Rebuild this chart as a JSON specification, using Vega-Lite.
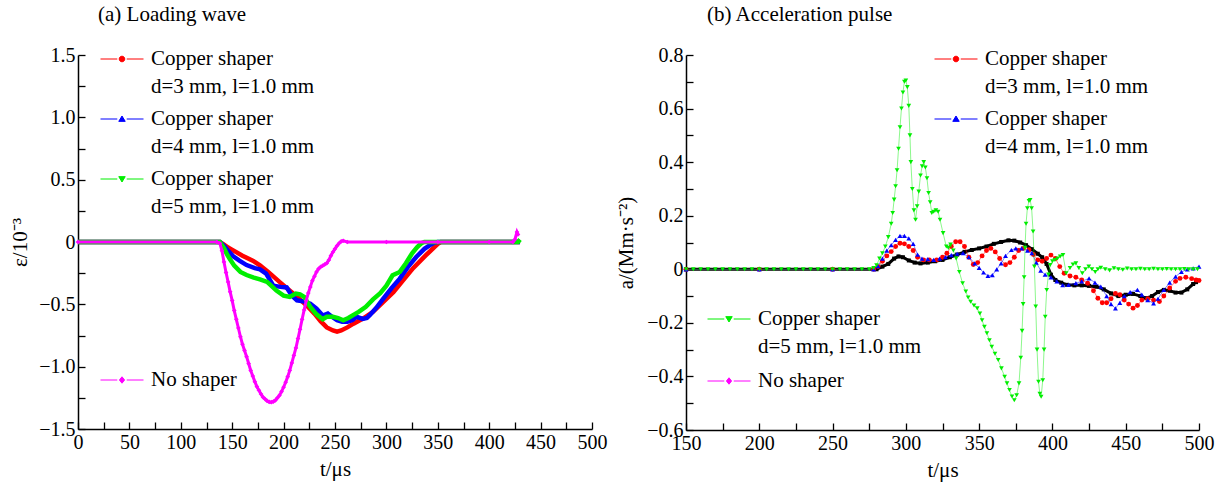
{
  "$schema": "https://vega.github.io/schema/vega-lite/v6.json",
  "padding": {"left": 9, "top": 4, "right": 5, "bottom": 5},
  "spacing": 8,
  "config": {
    "font": "Liberation Serif",
    "view": {"stroke": null},
    "axis": {"domainColor": "black", "domainWidth": 1.5, "tickColor": "black", "tickWidth": 1.3, "tickSize": -7, "labelFont": "Liberation Serif", "labelFontSize": 20, "labelColor": "black", "titleFont": "Liberation Serif", "titleFontSize": 21, "titleFontWeight": "normal", "titleColor": "black", "grid": false, "labelPadding": 10, "labelFlush": false, "labelOverlap": false},
    "legend": {"labelFont": "Liberation Serif", "labelFontSize": 21, "labelColor": "black", "padding": 0, "rowPadding": 1, "labelOffset": 7, "labelLimit": 400, "symbolSize": 1849, "orient": "none"}
  },
  "datasets": {
    "left": [
      {"s": "d=3 mm, l=1.0 mm", "t": 0, "v": 0}, {"s": "d=3 mm, l=1.0 mm", "t": 138, "v": 0}, {"s": "d=3 mm, l=1.0 mm", "t": 142, "v": -0.02}, {"s": "d=3 mm, l=1.0 mm", "t": 146, "v": -0.045}, {"s": "d=3 mm, l=1.0 mm", "t": 151, "v": -0.067}, {"s": "d=3 mm, l=1.0 mm", "t": 160, "v": -0.11}, {"s": "d=3 mm, l=1.0 mm", "t": 170, "v": -0.15}, {"s": "d=3 mm, l=1.0 mm", "t": 177, "v": -0.187}, {"s": "d=3 mm, l=1.0 mm", "t": 185, "v": -0.24}, {"s": "d=3 mm, l=1.0 mm", "t": 196, "v": -0.32}, {"s": "d=3 mm, l=1.0 mm", "t": 209, "v": -0.41}, {"s": "d=3 mm, l=1.0 mm", "t": 222, "v": -0.505}, {"s": "d=3 mm, l=1.0 mm", "t": 230, "v": -0.575}, {"s": "d=3 mm, l=1.0 mm", "t": 236, "v": -0.635}, {"s": "d=3 mm, l=1.0 mm", "t": 242, "v": -0.685}, {"s": "d=3 mm, l=1.0 mm", "t": 248, "v": -0.71}, {"s": "d=3 mm, l=1.0 mm", "t": 252, "v": -0.72}, {"s": "d=3 mm, l=1.0 mm", "t": 256, "v": -0.71}, {"s": "d=3 mm, l=1.0 mm", "t": 262, "v": -0.685}, {"s": "d=3 mm, l=1.0 mm", "t": 268, "v": -0.655}, {"s": "d=3 mm, l=1.0 mm", "t": 278, "v": -0.61}, {"s": "d=3 mm, l=1.0 mm", "t": 287, "v": -0.56}, {"s": "d=3 mm, l=1.0 mm", "t": 297, "v": -0.48}, {"s": "d=3 mm, l=1.0 mm", "t": 307, "v": -0.4}, {"s": "d=3 mm, l=1.0 mm", "t": 316, "v": -0.31}, {"s": "d=3 mm, l=1.0 mm", "t": 326, "v": -0.21}, {"s": "d=3 mm, l=1.0 mm", "t": 338, "v": -0.11}, {"s": "d=3 mm, l=1.0 mm", "t": 350, "v": -0.015}, {"s": "d=3 mm, l=1.0 mm", "t": 353, "v": 0}, {"s": "d=3 mm, l=1.0 mm", "t": 430, "v": 0},
      {"s": "d=4 mm, l=1.0 mm", "t": 0, "v": 0}, {"s": "d=4 mm, l=1.0 mm", "t": 138, "v": 0}, {"s": "d=4 mm, l=1.0 mm", "t": 142, "v": -0.03}, {"s": "d=4 mm, l=1.0 mm", "t": 146, "v": -0.07}, {"s": "d=4 mm, l=1.0 mm", "t": 151, "v": -0.115}, {"s": "d=4 mm, l=1.0 mm", "t": 157, "v": -0.15}, {"s": "d=4 mm, l=1.0 mm", "t": 164, "v": -0.185}, {"s": "d=4 mm, l=1.0 mm", "t": 172, "v": -0.21}, {"s": "d=4 mm, l=1.0 mm", "t": 177, "v": -0.22}, {"s": "d=4 mm, l=1.0 mm", "t": 183, "v": -0.254}, {"s": "d=4 mm, l=1.0 mm", "t": 190, "v": -0.35}, {"s": "d=4 mm, l=1.0 mm", "t": 197, "v": -0.36}, {"s": "d=4 mm, l=1.0 mm", "t": 203, "v": -0.365}, {"s": "d=4 mm, l=1.0 mm", "t": 208, "v": -0.43}, {"s": "d=4 mm, l=1.0 mm", "t": 213, "v": -0.468}, {"s": "d=4 mm, l=1.0 mm", "t": 219, "v": -0.476}, {"s": "d=4 mm, l=1.0 mm", "t": 226, "v": -0.495}, {"s": "d=4 mm, l=1.0 mm", "t": 232, "v": -0.535}, {"s": "d=4 mm, l=1.0 mm", "t": 238, "v": -0.59}, {"s": "d=4 mm, l=1.0 mm", "t": 243, "v": -0.574}, {"s": "d=4 mm, l=1.0 mm", "t": 247, "v": -0.6}, {"s": "d=4 mm, l=1.0 mm", "t": 252, "v": -0.628}, {"s": "d=4 mm, l=1.0 mm", "t": 257, "v": -0.64}, {"s": "d=4 mm, l=1.0 mm", "t": 262, "v": -0.64}, {"s": "d=4 mm, l=1.0 mm", "t": 267, "v": -0.625}, {"s": "d=4 mm, l=1.0 mm", "t": 271, "v": -0.6}, {"s": "d=4 mm, l=1.0 mm", "t": 277, "v": -0.617}, {"s": "d=4 mm, l=1.0 mm", "t": 281, "v": -0.61}, {"s": "d=4 mm, l=1.0 mm", "t": 284, "v": -0.585}, {"s": "d=4 mm, l=1.0 mm", "t": 290, "v": -0.53}, {"s": "d=4 mm, l=1.0 mm", "t": 297, "v": -0.455}, {"s": "d=4 mm, l=1.0 mm", "t": 305, "v": -0.37}, {"s": "d=4 mm, l=1.0 mm", "t": 313, "v": -0.294}, {"s": "d=4 mm, l=1.0 mm", "t": 321, "v": -0.2}, {"s": "d=4 mm, l=1.0 mm", "t": 329, "v": -0.12}, {"s": "d=4 mm, l=1.0 mm", "t": 337, "v": -0.055}, {"s": "d=4 mm, l=1.0 mm", "t": 342, "v": -0.027}, {"s": "d=4 mm, l=1.0 mm", "t": 347, "v": -0.005}, {"s": "d=4 mm, l=1.0 mm", "t": 350, "v": 0}, {"s": "d=4 mm, l=1.0 mm", "t": 430, "v": 0},
      {"s": "d=5 mm, l=1.0 mm", "t": 0, "v": 0}, {"s": "d=5 mm, l=1.0 mm", "t": 138, "v": 0}, {"s": "d=5 mm, l=1.0 mm", "t": 142, "v": -0.05}, {"s": "d=5 mm, l=1.0 mm", "t": 145, "v": -0.1}, {"s": "d=5 mm, l=1.0 mm", "t": 148, "v": -0.14}, {"s": "d=5 mm, l=1.0 mm", "t": 152, "v": -0.19}, {"s": "d=5 mm, l=1.0 mm", "t": 158, "v": -0.24}, {"s": "d=5 mm, l=1.0 mm", "t": 164, "v": -0.265}, {"s": "d=5 mm, l=1.0 mm", "t": 171, "v": -0.285}, {"s": "d=5 mm, l=1.0 mm", "t": 177, "v": -0.3}, {"s": "d=5 mm, l=1.0 mm", "t": 184, "v": -0.32}, {"s": "d=5 mm, l=1.0 mm", "t": 193, "v": -0.39}, {"s": "d=5 mm, l=1.0 mm", "t": 200, "v": -0.43}, {"s": "d=5 mm, l=1.0 mm", "t": 206, "v": -0.44}, {"s": "d=5 mm, l=1.0 mm", "t": 212, "v": -0.414}, {"s": "d=5 mm, l=1.0 mm", "t": 216, "v": -0.42}, {"s": "d=5 mm, l=1.0 mm", "t": 220, "v": -0.44}, {"s": "d=5 mm, l=1.0 mm", "t": 226, "v": -0.52}, {"s": "d=5 mm, l=1.0 mm", "t": 232, "v": -0.58}, {"s": "d=5 mm, l=1.0 mm", "t": 238, "v": -0.62}, {"s": "d=5 mm, l=1.0 mm", "t": 242, "v": -0.6}, {"s": "d=5 mm, l=1.0 mm", "t": 248, "v": -0.6}, {"s": "d=5 mm, l=1.0 mm", "t": 253, "v": -0.61}, {"s": "d=5 mm, l=1.0 mm", "t": 258, "v": -0.628}, {"s": "d=5 mm, l=1.0 mm", "t": 263, "v": -0.61}, {"s": "d=5 mm, l=1.0 mm", "t": 268, "v": -0.585}, {"s": "d=5 mm, l=1.0 mm", "t": 273, "v": -0.56}, {"s": "d=5 mm, l=1.0 mm", "t": 280, "v": -0.52}, {"s": "d=5 mm, l=1.0 mm", "t": 287, "v": -0.46}, {"s": "d=5 mm, l=1.0 mm", "t": 294, "v": -0.41}, {"s": "d=5 mm, l=1.0 mm", "t": 300, "v": -0.35}, {"s": "d=5 mm, l=1.0 mm", "t": 306, "v": -0.267}, {"s": "d=5 mm, l=1.0 mm", "t": 313, "v": -0.24}, {"s": "d=5 mm, l=1.0 mm", "t": 319, "v": -0.17}, {"s": "d=5 mm, l=1.0 mm", "t": 325, "v": -0.09}, {"s": "d=5 mm, l=1.0 mm", "t": 330, "v": -0.04}, {"s": "d=5 mm, l=1.0 mm", "t": 334, "v": -0.01}, {"s": "d=5 mm, l=1.0 mm", "t": 337, "v": 0}, {"s": "d=5 mm, l=1.0 mm", "t": 428, "v": 0}, {"s": "d=5 mm, l=1.0 mm", "t": 430, "v": 0.02},
      {"s": "No shaper", "t": 0, "v": 0}, {"s": "No shaper", "t": 135, "v": 0}, {"s": "No shaper", "t": 138, "v": -0.01}, {"s": "No shaper", "t": 140, "v": -0.07}, {"s": "No shaper", "t": 142, "v": -0.16}, {"s": "No shaper", "t": 144, "v": -0.245}, {"s": "No shaper", "t": 146, "v": -0.32}, {"s": "No shaper", "t": 148, "v": -0.4}, {"s": "No shaper", "t": 150, "v": -0.47}, {"s": "No shaper", "t": 152, "v": -0.55}, {"s": "No shaper", "t": 154, "v": -0.62}, {"s": "No shaper", "t": 156, "v": -0.69}, {"s": "No shaper", "t": 158, "v": -0.76}, {"s": "No shaper", "t": 160, "v": -0.82}, {"s": "No shaper", "t": 162, "v": -0.87}, {"s": "No shaper", "t": 164, "v": -0.92}, {"s": "No shaper", "t": 166, "v": -0.975}, {"s": "No shaper", "t": 168, "v": -1.03}, {"s": "No shaper", "t": 170, "v": -1.075}, {"s": "No shaper", "t": 172, "v": -1.12}, {"s": "No shaper", "t": 174, "v": -1.16}, {"s": "No shaper", "t": 176, "v": -1.19}, {"s": "No shaper", "t": 178, "v": -1.22}, {"s": "No shaper", "t": 180, "v": -1.245}, {"s": "No shaper", "t": 182, "v": -1.26}, {"s": "No shaper", "t": 184, "v": -1.275}, {"s": "No shaper", "t": 186, "v": -1.283}, {"s": "No shaper", "t": 188, "v": -1.285}, {"s": "No shaper", "t": 190, "v": -1.28}, {"s": "No shaper", "t": 192, "v": -1.27}, {"s": "No shaper", "t": 194, "v": -1.25}, {"s": "No shaper", "t": 196, "v": -1.23}, {"s": "No shaper", "t": 198, "v": -1.2}, {"s": "No shaper", "t": 200, "v": -1.165}, {"s": "No shaper", "t": 202, "v": -1.125}, {"s": "No shaper", "t": 204, "v": -1.08}, {"s": "No shaper", "t": 206, "v": -1.03}, {"s": "No shaper", "t": 208, "v": -0.97}, {"s": "No shaper", "t": 210, "v": -0.91}, {"s": "No shaper", "t": 212, "v": -0.85}, {"s": "No shaper", "t": 214, "v": -0.775}, {"s": "No shaper", "t": 216, "v": -0.7}, {"s": "No shaper", "t": 218, "v": -0.62}, {"s": "No shaper", "t": 220, "v": -0.545}, {"s": "No shaper", "t": 222, "v": -0.47}, {"s": "No shaper", "t": 224, "v": -0.41}, {"s": "No shaper", "t": 226, "v": -0.36}, {"s": "No shaper", "t": 228, "v": -0.31}, {"s": "No shaper", "t": 230, "v": -0.275}, {"s": "No shaper", "t": 232, "v": -0.24}, {"s": "No shaper", "t": 234, "v": -0.215}, {"s": "No shaper", "t": 236, "v": -0.2}, {"s": "No shaper", "t": 238, "v": -0.19}, {"s": "No shaper", "t": 240, "v": -0.18}, {"s": "No shaper", "t": 242, "v": -0.17}, {"s": "No shaper", "t": 244, "v": -0.145}, {"s": "No shaper", "t": 246, "v": -0.11}, {"s": "No shaper", "t": 248, "v": -0.08}, {"s": "No shaper", "t": 250, "v": -0.055}, {"s": "No shaper", "t": 252, "v": -0.03}, {"s": "No shaper", "t": 254, "v": -0.01}, {"s": "No shaper", "t": 256, "v": 0.005}, {"s": "No shaper", "t": 258, "v": 0.01}, {"s": "No shaper", "t": 262, "v": 0}, {"s": "No shaper", "t": 300, "v": 0}, {"s": "No shaper", "t": 350, "v": 0}, {"s": "No shaper", "t": 400, "v": 0}, {"s": "No shaper", "t": 423, "v": 0}, {"s": "No shaper", "t": 425, "v": 0.02}, {"s": "No shaper", "t": 427, "v": 0.08}, {"s": "No shaper", "t": 428, "v": 0.06}
    ],
    "right": [
      {"s": "No shaper", "t": 150, "v": 0}, {"s": "No shaper", "t": 280, "v": 0}, {"s": "No shaper", "t": 284, "v": 0.01}, {"s": "No shaper", "t": 288, "v": 0.02}, {"s": "No shaper", "t": 292, "v": 0.04}, {"s": "No shaper", "t": 295, "v": 0.048}, {"s": "No shaper", "t": 298, "v": 0.045}, {"s": "No shaper", "t": 302, "v": 0.033}, {"s": "No shaper", "t": 306, "v": 0.025}, {"s": "No shaper", "t": 310, "v": 0.022}, {"s": "No shaper", "t": 315, "v": 0.025}, {"s": "No shaper", "t": 320, "v": 0.03}, {"s": "No shaper", "t": 325, "v": 0.035}, {"s": "No shaper", "t": 330, "v": 0.045}, {"s": "No shaper", "t": 335, "v": 0.055}, {"s": "No shaper", "t": 340, "v": 0.065}, {"s": "No shaper", "t": 345, "v": 0.072}, {"s": "No shaper", "t": 350, "v": 0.078}, {"s": "No shaper", "t": 355, "v": 0.085}, {"s": "No shaper", "t": 360, "v": 0.095}, {"s": "No shaper", "t": 365, "v": 0.102}, {"s": "No shaper", "t": 370, "v": 0.108}, {"s": "No shaper", "t": 374, "v": 0.107}, {"s": "No shaper", "t": 378, "v": 0.1}, {"s": "No shaper", "t": 382, "v": 0.09}, {"s": "No shaper", "t": 386, "v": 0.075}, {"s": "No shaper", "t": 390, "v": 0.058}, {"s": "No shaper", "t": 393, "v": 0.045}, {"s": "No shaper", "t": 396, "v": 0.02}, {"s": "No shaper", "t": 399, "v": -0.02}, {"s": "No shaper", "t": 402, "v": -0.04}, {"s": "No shaper", "t": 406, "v": -0.05}, {"s": "No shaper", "t": 410, "v": -0.058}, {"s": "No shaper", "t": 415, "v": -0.06}, {"s": "No shaper", "t": 420, "v": -0.06}, {"s": "No shaper", "t": 425, "v": -0.062}, {"s": "No shaper", "t": 430, "v": -0.065}, {"s": "No shaper", "t": 435, "v": -0.075}, {"s": "No shaper", "t": 440, "v": -0.09}, {"s": "No shaper", "t": 445, "v": -0.1}, {"s": "No shaper", "t": 450, "v": -0.095}, {"s": "No shaper", "t": 455, "v": -0.092}, {"s": "No shaper", "t": 460, "v": -0.1}, {"s": "No shaper", "t": 464, "v": -0.108}, {"s": "No shaper", "t": 468, "v": -0.1}, {"s": "No shaper", "t": 472, "v": -0.085}, {"s": "No shaper", "t": 476, "v": -0.077}, {"s": "No shaper", "t": 480, "v": -0.08}, {"s": "No shaper", "t": 484, "v": -0.087}, {"s": "No shaper", "t": 488, "v": -0.087}, {"s": "No shaper", "t": 492, "v": -0.075}, {"s": "No shaper", "t": 496, "v": -0.055}, {"s": "No shaper", "t": 498, "v": -0.048},
      {"s": "d=3 mm, l=1.0 mm", "t": 150, "v": 0}, {"s": "d=3 mm, l=1.0 mm", "t": 200, "v": 0}, {"s": "d=3 mm, l=1.0 mm", "t": 250, "v": 0}, {"s": "d=3 mm, l=1.0 mm", "t": 278, "v": 0}, {"s": "d=3 mm, l=1.0 mm", "t": 281, "v": 0.01}, {"s": "d=3 mm, l=1.0 mm", "t": 284, "v": 0.03}, {"s": "d=3 mm, l=1.0 mm", "t": 287, "v": 0.05}, {"s": "d=3 mm, l=1.0 mm", "t": 290, "v": 0.066}, {"s": "d=3 mm, l=1.0 mm", "t": 293, "v": 0.085}, {"s": "d=3 mm, l=1.0 mm", "t": 296, "v": 0.097}, {"s": "d=3 mm, l=1.0 mm", "t": 299, "v": 0.095}, {"s": "d=3 mm, l=1.0 mm", "t": 302, "v": 0.085}, {"s": "d=3 mm, l=1.0 mm", "t": 305, "v": 0.07}, {"s": "d=3 mm, l=1.0 mm", "t": 308, "v": 0.045}, {"s": "d=3 mm, l=1.0 mm", "t": 312, "v": 0.035}, {"s": "d=3 mm, l=1.0 mm", "t": 316, "v": 0.035}, {"s": "d=3 mm, l=1.0 mm", "t": 321, "v": 0.035}, {"s": "d=3 mm, l=1.0 mm", "t": 325, "v": 0.045}, {"s": "d=3 mm, l=1.0 mm", "t": 328, "v": 0.06}, {"s": "d=3 mm, l=1.0 mm", "t": 331, "v": 0.085}, {"s": "d=3 mm, l=1.0 mm", "t": 334, "v": 0.103}, {"s": "d=3 mm, l=1.0 mm", "t": 337, "v": 0.103}, {"s": "d=3 mm, l=1.0 mm", "t": 340, "v": 0.085}, {"s": "d=3 mm, l=1.0 mm", "t": 343, "v": 0.045}, {"s": "d=3 mm, l=1.0 mm", "t": 346, "v": 0.018}, {"s": "d=3 mm, l=1.0 mm", "t": 349, "v": 0.025}, {"s": "d=3 mm, l=1.0 mm", "t": 352, "v": 0.05}, {"s": "d=3 mm, l=1.0 mm", "t": 355, "v": 0.07}, {"s": "d=3 mm, l=1.0 mm", "t": 358, "v": 0.078}, {"s": "d=3 mm, l=1.0 mm", "t": 361, "v": 0.065}, {"s": "d=3 mm, l=1.0 mm", "t": 364, "v": 0.04}, {"s": "d=3 mm, l=1.0 mm", "t": 368, "v": 0.017}, {"s": "d=3 mm, l=1.0 mm", "t": 371, "v": 0.025}, {"s": "d=3 mm, l=1.0 mm", "t": 374, "v": 0.045}, {"s": "d=3 mm, l=1.0 mm", "t": 377, "v": 0.07}, {"s": "d=3 mm, l=1.0 mm", "t": 380, "v": 0.078}, {"s": "d=3 mm, l=1.0 mm", "t": 384, "v": 0.073}, {"s": "d=3 mm, l=1.0 mm", "t": 387, "v": 0.055}, {"s": "d=3 mm, l=1.0 mm", "t": 390, "v": 0.035}, {"s": "d=3 mm, l=1.0 mm", "t": 393, "v": 0.03}, {"s": "d=3 mm, l=1.0 mm", "t": 396, "v": 0.04}, {"s": "d=3 mm, l=1.0 mm", "t": 399, "v": 0.053}, {"s": "d=3 mm, l=1.0 mm", "t": 402, "v": 0.04}, {"s": "d=3 mm, l=1.0 mm", "t": 405, "v": 0.01}, {"s": "d=3 mm, l=1.0 mm", "t": 408, "v": -0.015}, {"s": "d=3 mm, l=1.0 mm", "t": 412, "v": -0.025}, {"s": "d=3 mm, l=1.0 mm", "t": 416, "v": -0.03}, {"s": "d=3 mm, l=1.0 mm", "t": 420, "v": -0.04}, {"s": "d=3 mm, l=1.0 mm", "t": 424, "v": -0.052}, {"s": "d=3 mm, l=1.0 mm", "t": 428, "v": -0.08}, {"s": "d=3 mm, l=1.0 mm", "t": 431, "v": -0.108}, {"s": "d=3 mm, l=1.0 mm", "t": 434, "v": -0.125}, {"s": "d=3 mm, l=1.0 mm", "t": 437, "v": -0.125}, {"s": "d=3 mm, l=1.0 mm", "t": 440, "v": -0.11}, {"s": "d=3 mm, l=1.0 mm", "t": 443, "v": -0.09}, {"s": "d=3 mm, l=1.0 mm", "t": 446, "v": -0.095}, {"s": "d=3 mm, l=1.0 mm", "t": 449, "v": -0.115}, {"s": "d=3 mm, l=1.0 mm", "t": 452, "v": -0.13}, {"s": "d=3 mm, l=1.0 mm", "t": 455, "v": -0.145}, {"s": "d=3 mm, l=1.0 mm", "t": 458, "v": -0.135}, {"s": "d=3 mm, l=1.0 mm", "t": 461, "v": -0.115}, {"s": "d=3 mm, l=1.0 mm", "t": 465, "v": -0.11}, {"s": "d=3 mm, l=1.0 mm", "t": 469, "v": -0.115}, {"s": "d=3 mm, l=1.0 mm", "t": 473, "v": -0.12}, {"s": "d=3 mm, l=1.0 mm", "t": 476, "v": -0.1}, {"s": "d=3 mm, l=1.0 mm", "t": 480, "v": -0.07}, {"s": "d=3 mm, l=1.0 mm", "t": 484, "v": -0.045}, {"s": "d=3 mm, l=1.0 mm", "t": 487, "v": -0.034}, {"s": "d=3 mm, l=1.0 mm", "t": 491, "v": -0.03}, {"s": "d=3 mm, l=1.0 mm", "t": 495, "v": -0.035}, {"s": "d=3 mm, l=1.0 mm", "t": 498, "v": -0.04}, {"s": "d=3 mm, l=1.0 mm", "t": 500, "v": -0.042},
      {"s": "d=4 mm, l=1.0 mm", "t": 150, "v": 0}, {"s": "d=4 mm, l=1.0 mm", "t": 200, "v": 0}, {"s": "d=4 mm, l=1.0 mm", "t": 250, "v": 0}, {"s": "d=4 mm, l=1.0 mm", "t": 278, "v": 0}, {"s": "d=4 mm, l=1.0 mm", "t": 281, "v": 0.012}, {"s": "d=4 mm, l=1.0 mm", "t": 284, "v": 0.04}, {"s": "d=4 mm, l=1.0 mm", "t": 287, "v": 0.07}, {"s": "d=4 mm, l=1.0 mm", "t": 290, "v": 0.09}, {"s": "d=4 mm, l=1.0 mm", "t": 293, "v": 0.11}, {"s": "d=4 mm, l=1.0 mm", "t": 296, "v": 0.125}, {"s": "d=4 mm, l=1.0 mm", "t": 299, "v": 0.125}, {"s": "d=4 mm, l=1.0 mm", "t": 302, "v": 0.115}, {"s": "d=4 mm, l=1.0 mm", "t": 305, "v": 0.095}, {"s": "d=4 mm, l=1.0 mm", "t": 308, "v": 0.055}, {"s": "d=4 mm, l=1.0 mm", "t": 311, "v": 0.04}, {"s": "d=4 mm, l=1.0 mm", "t": 315, "v": 0.038}, {"s": "d=4 mm, l=1.0 mm", "t": 319, "v": 0.035}, {"s": "d=4 mm, l=1.0 mm", "t": 323, "v": 0.04}, {"s": "d=4 mm, l=1.0 mm", "t": 327, "v": 0.045}, {"s": "d=4 mm, l=1.0 mm", "t": 331, "v": 0.053}, {"s": "d=4 mm, l=1.0 mm", "t": 335, "v": 0.058}, {"s": "d=4 mm, l=1.0 mm", "t": 339, "v": 0.06}, {"s": "d=4 mm, l=1.0 mm", "t": 343, "v": 0.045}, {"s": "d=4 mm, l=1.0 mm", "t": 347, "v": 0.022}, {"s": "d=4 mm, l=1.0 mm", "t": 350, "v": 0.005}, {"s": "d=4 mm, l=1.0 mm", "t": 353, "v": -0.012}, {"s": "d=4 mm, l=1.0 mm", "t": 356, "v": -0.025}, {"s": "d=4 mm, l=1.0 mm", "t": 359, "v": -0.022}, {"s": "d=4 mm, l=1.0 mm", "t": 362, "v": 0}, {"s": "d=4 mm, l=1.0 mm", "t": 365, "v": 0.022}, {"s": "d=4 mm, l=1.0 mm", "t": 368, "v": 0.05}, {"s": "d=4 mm, l=1.0 mm", "t": 372, "v": 0.072}, {"s": "d=4 mm, l=1.0 mm", "t": 375, "v": 0.078}, {"s": "d=4 mm, l=1.0 mm", "t": 379, "v": 0.078}, {"s": "d=4 mm, l=1.0 mm", "t": 383, "v": 0.07}, {"s": "d=4 mm, l=1.0 mm", "t": 386, "v": 0.06}, {"s": "d=4 mm, l=1.0 mm", "t": 389, "v": 0.025}, {"s": "d=4 mm, l=1.0 mm", "t": 392, "v": -0.005}, {"s": "d=4 mm, l=1.0 mm", "t": 395, "v": -0.02}, {"s": "d=4 mm, l=1.0 mm", "t": 399, "v": -0.03}, {"s": "d=4 mm, l=1.0 mm", "t": 403, "v": -0.045}, {"s": "d=4 mm, l=1.0 mm", "t": 407, "v": -0.059}, {"s": "d=4 mm, l=1.0 mm", "t": 411, "v": -0.058}, {"s": "d=4 mm, l=1.0 mm", "t": 416, "v": -0.052}, {"s": "d=4 mm, l=1.0 mm", "t": 420, "v": -0.045}, {"s": "d=4 mm, l=1.0 mm", "t": 425, "v": -0.034}, {"s": "d=4 mm, l=1.0 mm", "t": 429, "v": -0.05}, {"s": "d=4 mm, l=1.0 mm", "t": 433, "v": -0.065}, {"s": "d=4 mm, l=1.0 mm", "t": 437, "v": -0.1}, {"s": "d=4 mm, l=1.0 mm", "t": 440, "v": -0.13}, {"s": "d=4 mm, l=1.0 mm", "t": 443, "v": -0.146}, {"s": "d=4 mm, l=1.0 mm", "t": 446, "v": -0.125}, {"s": "d=4 mm, l=1.0 mm", "t": 449, "v": -0.1}, {"s": "d=4 mm, l=1.0 mm", "t": 453, "v": -0.085}, {"s": "d=4 mm, l=1.0 mm", "t": 458, "v": -0.077}, {"s": "d=4 mm, l=1.0 mm", "t": 461, "v": -0.095}, {"s": "d=4 mm, l=1.0 mm", "t": 465, "v": -0.115}, {"s": "d=4 mm, l=1.0 mm", "t": 469, "v": -0.127}, {"s": "d=4 mm, l=1.0 mm", "t": 472, "v": -0.11}, {"s": "d=4 mm, l=1.0 mm", "t": 476, "v": -0.077}, {"s": "d=4 mm, l=1.0 mm", "t": 480, "v": -0.05}, {"s": "d=4 mm, l=1.0 mm", "t": 484, "v": -0.027}, {"s": "d=4 mm, l=1.0 mm", "t": 488, "v": -0.01}, {"s": "d=4 mm, l=1.0 mm", "t": 492, "v": 0}, {"s": "d=4 mm, l=1.0 mm", "t": 496, "v": 0.003}, {"s": "d=4 mm, l=1.0 mm", "t": 500, "v": 0.01},
      {"s": "d=5 mm, l=1.0 mm", "t": 150, "v": 0}, {"s": "d=5 mm, l=1.0 mm", "t": 155, "v": 0}, {"s": "d=5 mm, l=1.0 mm", "t": 160, "v": 0}, {"s": "d=5 mm, l=1.0 mm", "t": 165, "v": 0}, {"s": "d=5 mm, l=1.0 mm", "t": 170, "v": 0}, {"s": "d=5 mm, l=1.0 mm", "t": 175, "v": 0}, {"s": "d=5 mm, l=1.0 mm", "t": 180, "v": 0}, {"s": "d=5 mm, l=1.0 mm", "t": 185, "v": 0}, {"s": "d=5 mm, l=1.0 mm", "t": 190, "v": 0}, {"s": "d=5 mm, l=1.0 mm", "t": 195, "v": 0}, {"s": "d=5 mm, l=1.0 mm", "t": 200, "v": 0}, {"s": "d=5 mm, l=1.0 mm", "t": 205, "v": 0}, {"s": "d=5 mm, l=1.0 mm", "t": 210, "v": 0}, {"s": "d=5 mm, l=1.0 mm", "t": 215, "v": 0}, {"s": "d=5 mm, l=1.0 mm", "t": 220, "v": 0}, {"s": "d=5 mm, l=1.0 mm", "t": 225, "v": 0}, {"s": "d=5 mm, l=1.0 mm", "t": 230, "v": 0}, {"s": "d=5 mm, l=1.0 mm", "t": 235, "v": 0}, {"s": "d=5 mm, l=1.0 mm", "t": 240, "v": 0}, {"s": "d=5 mm, l=1.0 mm", "t": 245, "v": 0}, {"s": "d=5 mm, l=1.0 mm", "t": 250, "v": 0}, {"s": "d=5 mm, l=1.0 mm", "t": 255, "v": 0}, {"s": "d=5 mm, l=1.0 mm", "t": 260, "v": 0}, {"s": "d=5 mm, l=1.0 mm", "t": 265, "v": 0}, {"s": "d=5 mm, l=1.0 mm", "t": 270, "v": 0}, {"s": "d=5 mm, l=1.0 mm", "t": 275, "v": 0}, {"s": "d=5 mm, l=1.0 mm", "t": 278, "v": 0.005}, {"s": "d=5 mm, l=1.0 mm", "t": 280, "v": 0.015}, {"s": "d=5 mm, l=1.0 mm", "t": 282, "v": 0.04}, {"s": "d=5 mm, l=1.0 mm", "t": 284, "v": 0.06}, {"s": "d=5 mm, l=1.0 mm", "t": 286, "v": 0.085}, {"s": "d=5 mm, l=1.0 mm", "t": 288, "v": 0.12}, {"s": "d=5 mm, l=1.0 mm", "t": 290, "v": 0.17}, {"s": "d=5 mm, l=1.0 mm", "t": 291, "v": 0.21}, {"s": "d=5 mm, l=1.0 mm", "t": 292, "v": 0.26}, {"s": "d=5 mm, l=1.0 mm", "t": 293, "v": 0.31}, {"s": "d=5 mm, l=1.0 mm", "t": 294, "v": 0.37}, {"s": "d=5 mm, l=1.0 mm", "t": 295, "v": 0.45}, {"s": "d=5 mm, l=1.0 mm", "t": 296, "v": 0.53}, {"s": "d=5 mm, l=1.0 mm", "t": 297, "v": 0.6}, {"s": "d=5 mm, l=1.0 mm", "t": 298, "v": 0.66}, {"s": "d=5 mm, l=1.0 mm", "t": 299, "v": 0.7}, {"s": "d=5 mm, l=1.0 mm", "t": 300, "v": 0.705}, {"s": "d=5 mm, l=1.0 mm", "t": 301, "v": 0.68}, {"s": "d=5 mm, l=1.0 mm", "t": 302, "v": 0.61}, {"s": "d=5 mm, l=1.0 mm", "t": 302.8, "v": 0.5}, {"s": "d=5 mm, l=1.0 mm", "t": 303.4, "v": 0.4}, {"s": "d=5 mm, l=1.0 mm", "t": 304.4, "v": 0.3}, {"s": "d=5 mm, l=1.0 mm", "t": 305.5, "v": 0.22}, {"s": "d=5 mm, l=1.0 mm", "t": 306.6, "v": 0.185}, {"s": "d=5 mm, l=1.0 mm", "t": 307.7, "v": 0.235}, {"s": "d=5 mm, l=1.0 mm", "t": 308.8, "v": 0.29}, {"s": "d=5 mm, l=1.0 mm", "t": 310, "v": 0.35}, {"s": "d=5 mm, l=1.0 mm", "t": 311.1, "v": 0.385}, {"s": "d=5 mm, l=1.0 mm", "t": 312.2, "v": 0.4}, {"s": "d=5 mm, l=1.0 mm", "t": 313.3, "v": 0.38}, {"s": "d=5 mm, l=1.0 mm", "t": 314.4, "v": 0.34}, {"s": "d=5 mm, l=1.0 mm", "t": 315.5, "v": 0.285}, {"s": "d=5 mm, l=1.0 mm", "t": 316.6, "v": 0.25}, {"s": "d=5 mm, l=1.0 mm", "t": 317.7, "v": 0.21}, {"s": "d=5 mm, l=1.0 mm", "t": 319, "v": 0.215}, {"s": "d=5 mm, l=1.0 mm", "t": 320.5, "v": 0.22}, {"s": "d=5 mm, l=1.0 mm", "t": 322, "v": 0.215}, {"s": "d=5 mm, l=1.0 mm", "t": 323.3, "v": 0.185}, {"s": "d=5 mm, l=1.0 mm", "t": 325.4, "v": 0.135}, {"s": "d=5 mm, l=1.0 mm", "t": 327.6, "v": 0.085}, {"s": "d=5 mm, l=1.0 mm", "t": 329, "v": 0.08}, {"s": "d=5 mm, l=1.0 mm", "t": 330.5, "v": 0.092}, {"s": "d=5 mm, l=1.0 mm", "t": 332.4, "v": 0.07}, {"s": "d=5 mm, l=1.0 mm", "t": 334.3, "v": 0.04}, {"s": "d=5 mm, l=1.0 mm", "t": 336.5, "v": -0.01}, {"s": "d=5 mm, l=1.0 mm", "t": 338.7, "v": -0.052}, {"s": "d=5 mm, l=1.0 mm", "t": 340.9, "v": -0.083}, {"s": "d=5 mm, l=1.0 mm", "t": 342.5, "v": -0.105}, {"s": "d=5 mm, l=1.0 mm", "t": 344.2, "v": -0.121}, {"s": "d=5 mm, l=1.0 mm", "t": 346.5, "v": -0.135}, {"s": "d=5 mm, l=1.0 mm", "t": 348.7, "v": -0.146}, {"s": "d=5 mm, l=1.0 mm", "t": 350.5, "v": -0.165}, {"s": "d=5 mm, l=1.0 mm", "t": 352, "v": -0.19}, {"s": "d=5 mm, l=1.0 mm", "t": 353.6, "v": -0.215}, {"s": "d=5 mm, l=1.0 mm", "t": 355.3, "v": -0.239}, {"s": "d=5 mm, l=1.0 mm", "t": 357, "v": -0.265}, {"s": "d=5 mm, l=1.0 mm", "t": 358.6, "v": -0.289}, {"s": "d=5 mm, l=1.0 mm", "t": 360.8, "v": -0.315}, {"s": "d=5 mm, l=1.0 mm", "t": 363, "v": -0.339}, {"s": "d=5 mm, l=1.0 mm", "t": 365.2, "v": -0.37}, {"s": "d=5 mm, l=1.0 mm", "t": 367.4, "v": -0.401}, {"s": "d=5 mm, l=1.0 mm", "t": 369, "v": -0.426}, {"s": "d=5 mm, l=1.0 mm", "t": 370.7, "v": -0.451}, {"s": "d=5 mm, l=1.0 mm", "t": 372.4, "v": -0.475}, {"s": "d=5 mm, l=1.0 mm", "t": 374, "v": -0.489}, {"s": "d=5 mm, l=1.0 mm", "t": 375.6, "v": -0.47}, {"s": "d=5 mm, l=1.0 mm", "t": 377.2, "v": -0.426}, {"s": "d=5 mm, l=1.0 mm", "t": 378.4, "v": -0.33}, {"s": "d=5 mm, l=1.0 mm", "t": 379.3, "v": -0.23}, {"s": "d=5 mm, l=1.0 mm", "t": 380, "v": -0.13}, {"s": "d=5 mm, l=1.0 mm", "t": 380.7, "v": -0.03}, {"s": "d=5 mm, l=1.0 mm", "t": 381.3, "v": 0.08}, {"s": "d=5 mm, l=1.0 mm", "t": 382, "v": 0.17}, {"s": "d=5 mm, l=1.0 mm", "t": 382.9, "v": 0.228}, {"s": "d=5 mm, l=1.0 mm", "t": 384, "v": 0.255}, {"s": "d=5 mm, l=1.0 mm", "t": 384.8, "v": 0.259}, {"s": "d=5 mm, l=1.0 mm", "t": 385.8, "v": 0.228}, {"s": "d=5 mm, l=1.0 mm", "t": 386.8, "v": 0.141}, {"s": "d=5 mm, l=1.0 mm", "t": 387.7, "v": 0.01}, {"s": "d=5 mm, l=1.0 mm", "t": 388.6, "v": -0.139}, {"s": "d=5 mm, l=1.0 mm", "t": 389.5, "v": -0.3}, {"s": "d=5 mm, l=1.0 mm", "t": 390.5, "v": -0.42}, {"s": "d=5 mm, l=1.0 mm", "t": 391.4, "v": -0.465}, {"s": "d=5 mm, l=1.0 mm", "t": 392.3, "v": -0.476}, {"s": "d=5 mm, l=1.0 mm", "t": 393.4, "v": -0.414}, {"s": "d=5 mm, l=1.0 mm", "t": 394.3, "v": -0.3}, {"s": "d=5 mm, l=1.0 mm", "t": 395.1, "v": -0.177}, {"s": "d=5 mm, l=1.0 mm", "t": 396.1, "v": -0.077}, {"s": "d=5 mm, l=1.0 mm", "t": 397.3, "v": -0.02}, {"s": "d=5 mm, l=1.0 mm", "t": 398.5, "v": 0.016}, {"s": "d=5 mm, l=1.0 mm", "t": 400, "v": 0.03}, {"s": "d=5 mm, l=1.0 mm", "t": 401.7, "v": 0.035}, {"s": "d=5 mm, l=1.0 mm", "t": 403.5, "v": 0.04}, {"s": "d=5 mm, l=1.0 mm", "t": 405.3, "v": 0.048}, {"s": "d=5 mm, l=1.0 mm", "t": 407.2, "v": 0.053}, {"s": "d=5 mm, l=1.0 mm", "t": 409.4, "v": -0.015}, {"s": "d=5 mm, l=1.0 mm", "t": 412, "v": 0.005}, {"s": "d=5 mm, l=1.0 mm", "t": 414, "v": 0.018}, {"s": "d=5 mm, l=1.0 mm", "t": 416, "v": 0.022}, {"s": "d=5 mm, l=1.0 mm", "t": 418, "v": 0.005}, {"s": "d=5 mm, l=1.0 mm", "t": 420.4, "v": -0.015}, {"s": "d=5 mm, l=1.0 mm", "t": 422.6, "v": 0}, {"s": "d=5 mm, l=1.0 mm", "t": 424.8, "v": 0.01}, {"s": "d=5 mm, l=1.0 mm", "t": 427, "v": 0}, {"s": "d=5 mm, l=1.0 mm", "t": 429.2, "v": -0.01}, {"s": "d=5 mm, l=1.0 mm", "t": 431, "v": 0}, {"s": "d=5 mm, l=1.0 mm", "t": 433, "v": 0.006}, {"s": "d=5 mm, l=1.0 mm", "t": 436, "v": 0}, {"s": "d=5 mm, l=1.0 mm", "t": 439, "v": -0.004}, {"s": "d=5 mm, l=1.0 mm", "t": 442, "v": 0.004}, {"s": "d=5 mm, l=1.0 mm", "t": 445, "v": 0}, {"s": "d=5 mm, l=1.0 mm", "t": 448, "v": -0.002}, {"s": "d=5 mm, l=1.0 mm", "t": 451, "v": 0.003}, {"s": "d=5 mm, l=1.0 mm", "t": 454, "v": 0}, {"s": "d=5 mm, l=1.0 mm", "t": 457, "v": 0}, {"s": "d=5 mm, l=1.0 mm", "t": 460, "v": 0.002}, {"s": "d=5 mm, l=1.0 mm", "t": 463, "v": 0}, {"s": "d=5 mm, l=1.0 mm", "t": 466, "v": 0}, {"s": "d=5 mm, l=1.0 mm", "t": 469, "v": 0.002}, {"s": "d=5 mm, l=1.0 mm", "t": 472, "v": 0}, {"s": "d=5 mm, l=1.0 mm", "t": 475, "v": 0}, {"s": "d=5 mm, l=1.0 mm", "t": 478, "v": 0.001}, {"s": "d=5 mm, l=1.0 mm", "t": 481, "v": 0}, {"s": "d=5 mm, l=1.0 mm", "t": 484, "v": 0}, {"s": "d=5 mm, l=1.0 mm", "t": 487, "v": 0}, {"s": "d=5 mm, l=1.0 mm", "t": 490, "v": 0.001}, {"s": "d=5 mm, l=1.0 mm", "t": 493, "v": 0}, {"s": "d=5 mm, l=1.0 mm", "t": 496, "v": 0}, {"s": "d=5 mm, l=1.0 mm", "t": 499, "v": 0}
    ]
  },
  "hconcat": [
    {
      "width": 514,
      "height": 374,
      "title": {"text": "(a) Loading wave", "anchor": "start", "frame": "group", "dx": 20, "offset": 12, "fontSize": 21, "font": "Liberation Serif", "fontWeight": "normal", "color": "black"},
      "data": {"name": "left"},
      "encoding": {
        "x": {"field": "t", "type": "quantitative", "title": "t/μs", "scale": {"domain": [0, 500], "nice": false}, "axis": {"values": [0, 25, 50, 75, 100, 125, 150, 175, 200, 225, 250, 275, 300, 325, 350, 375, 400, 425, 450, 475, 500], "labelExpr": "datum.value % 50 === 0 ? datum.label : ''", "titlePadding": 6, "encode": {"ticks": {"update": {"y2": {"signal": "datum.value % 50 === 0 ? -7 : -4"}}}}}},
        "y": {"field": "v", "type": "quantitative", "title": "ε/10⁻³", "scale": {"domain": [-1.5, 1.5], "nice": false}, "axis": {"values": [-1.5, -1.25, -1, -0.75, -0.5, -0.25, 0, 0.25, 0.5, 0.75, 1, 1.25, 1.5], "labelExpr": "datum.value % 0.5 === 0 ? (datum.value === 0 ? '0' : format(datum.value, '.1f')) : ''", "titlePadding": 8, "encode": {"ticks": {"update": {"x2": {"signal": "datum.value % 0.5 === 0 ? 7 : 4"}}}}}}
      },
      "resolve": {"scale": {"color": "independent"}},
      "layer": [
        {
          "transform": [{"filter": "datum.s !== 'No shaper'"}],
          "mark": {"type": "line", "strokeWidth": 4.5},
          "encoding": {
            "color": {"field": "s", "type": "nominal", "scale": {"domain": ["d=3 mm, l=1.0 mm", "d=4 mm, l=1.0 mm", "d=5 mm, l=1.0 mm"], "range": ["#ff0000", "#0000ff", "#00ee00"]},
              "legend": {"title": null, "legendX": 22, "legendY": -18, "rowPadding": 0, "labelExpr": "['Copper shaper', datum.label]",
                "encode": {
                  "symbols": {"update": {"shape": {"signal": "indexof(datum.value,'d=3')===0 ? 'M-1,0H-0.22M0.22,0H1M-0.13,0A0.13,0.13 0 1,1 0.13,0A0.13,0.13 0 1,1 -0.13,0Z' : indexof(datum.value,'d=4')===0 ? 'M-1,0H-0.22M0.22,0H1M0,-0.14L0.15,0.11L-0.15,0.11Z' : indexof(datum.value,'d=5')===0 ? 'M-1,0H-0.22M0.22,0H1M0,0.14L0.15,-0.11L-0.15,-0.11Z' : 'M-1,0H-0.22M0.22,0H1M0,-0.15L0.12,0L0,0.15L-0.12,0Z'"}, "fill": {"signal": "indexof(datum.value,'d=3')===0 ? '#ff0000' : indexof(datum.value,'d=4')===0 ? '#0000ff' : indexof(datum.value,'d=5')===0 ? '#00ee00' : '#ff00ff'"}, "stroke": {"signal": "indexof(datum.value,'d=3')===0 ? '#f4a0a0' : indexof(datum.value,'d=4')===0 ? '#a0a0f4' : indexof(datum.value,'d=5')===0 ? '#a0a0a0' : '#f4a0f4'"}, "strokeWidth": {"value": 1}, "opacity": {"value": 1}}},
                  "labels": {"update": {"lineHeight": {"value": 28}}}
                }}}
          }
        },
        {
          "transform": [{"filter": "datum.s === 'No shaper'"}],
          "layer": [
            {"mark": {"type": "line", "strokeWidth": 3},
             "encoding": {"color": {"field": "s", "type": "nominal", "scale": {"domain": ["No shaper"], "range": ["#ff00ff"]},
               "legend": {"title": null, "legendX": 22, "legendY": 303,
                 "encode": {"symbols": {"update": {"shape": {"value": "M-1,0H-0.22M0.22,0H1M0,-0.15L0.12,0L0,0.15L-0.12,0Z"}, "fill": {"value": "#ff00ff"}, "stroke": {"value": "#f4a0f4"}, "strokeWidth": {"value": 1}, "opacity": {"value": 1}}}}}}}},
            {"mark": {"type": "point", "shape": "diamond", "filled": true, "size": 22, "opacity": 1},
             "encoding": {"color": {"field": "s", "type": "nominal"}}}
          ]
        }
      ]
    },
    {
      "width": 513,
      "height": 375,
      "title": {"text": "(b) Acceleration pulse", "anchor": "start", "frame": "group", "dx": 21, "offset": 12, "fontSize": 21, "font": "Liberation Serif", "fontWeight": "normal", "color": "black"},
      "data": {"name": "right"},
      "encoding": {
        "x": {"field": "t", "type": "quantitative", "title": "t/μs", "scale": {"domain": [150, 500], "nice": false}, "axis": {"values": [150, 175, 200, 225, 250, 275, 300, 325, 350, 375, 400, 425, 450, 475, 500], "labelExpr": "datum.value % 50 === 0 ? datum.label : ''", "titlePadding": 6, "encode": {"ticks": {"update": {"y2": {"signal": "datum.value % 50 === 0 ? -7 : -4"}}}}}},
        "y": {"field": "v", "type": "quantitative", "title": "a/(Mm·s⁻²)", "scale": {"domain": [-0.6, 0.8], "nice": false}, "axis": {"values": [-0.6, -0.5, -0.4, -0.3, -0.2, -0.1, 0, 0.1, 0.2, 0.3, 0.4, 0.5, 0.6, 0.7, 0.8], "labelExpr": "round(datum.value*10) % 2 === 0 ? (datum.value === 0 ? '0' : format(datum.value, '.1f')) : ''", "titlePadding": 10, "encode": {"ticks": {"update": {"x2": {"signal": "round(datum.value*10) % 2 === 0 ? 7 : 4"}}}}}}
      },
      "resolve": {"scale": {"color": "independent"}},
      "layer": [
        {
          "transform": [{"filter": "datum.s === 'No shaper'"}],
          "layer": [
            {"mark": {"type": "line", "strokeWidth": 3, "color": "black"}, "encoding": {}},
            {"mark": {"type": "point", "shape": "square", "filled": true, "size": 16, "color": "black", "opacity": 1}, "encoding": {}}
          ]
        },
        {
          "transform": [{"filter": "datum.s === 'd=3 mm, l=1.0 mm' || datum.s === 'd=4 mm, l=1.0 mm'"}],
          "layer": [
            {"mark": {"type": "line", "strokeWidth": 1, "strokeOpacity": 0.5},
             "encoding": {"color": {"field": "s", "type": "nominal", "scale": {"domain": ["d=3 mm, l=1.0 mm", "d=4 mm, l=1.0 mm"], "range": ["#ff0000", "#0000ff"]},
               "legend": {"title": null, "legendX": 248, "legendY": -18, "rowPadding": -3, "labelExpr": "['Copper shaper', datum.label]",
                 "encode": {
                   "symbols": {"update": {"shape": {"signal": "indexof(datum.value,'d=3')===0 ? 'M-1,0H-0.22M0.22,0H1M-0.13,0A0.13,0.13 0 1,1 0.13,0A0.13,0.13 0 1,1 -0.13,0Z' : 'M-1,0H-0.22M0.22,0H1M0,-0.14L0.15,0.11L-0.15,0.11Z'"}, "fill": {"signal": "indexof(datum.value,'d=3')===0 ? '#ff0000' : '#0000ff'"}, "stroke": {"signal": "indexof(datum.value,'d=3')===0 ? '#f4a0a0' : '#a0a0f4'"}, "strokeWidth": {"value": 1}, "opacity": {"value": 1}}},
                   "labels": {"update": {"lineHeight": {"value": 28}}}
                 }}}}},
            {"transform": [{"filter": "datum.s === 'd=3 mm, l=1.0 mm'"}],
             "mark": {"type": "point", "shape": "circle", "filled": true, "size": 24, "opacity": 1},
             "encoding": {"color": {"field": "s", "type": "nominal"}}},
            {"transform": [{"filter": "datum.s === 'd=4 mm, l=1.0 mm'"}],
             "mark": {"type": "point", "shape": "triangle-up", "filled": true, "size": 24, "opacity": 1},
             "encoding": {"color": {"field": "s", "type": "nominal"}}}
          ]
        },
        {
          "transform": [{"filter": "datum.s === 'd=5 mm, l=1.0 mm'"}],
          "layer": [
            {"mark": {"type": "line", "strokeWidth": 1, "strokeOpacity": 0.45},
             "encoding": {"color": {"field": "s", "type": "nominal", "scale": {"domain": ["d=5 mm, l=1.0 mm", "No shaper"], "range": ["#00ee00", "#ff00ff"]},
               "legend": {"title": null, "legendX": 21, "legendY": 242, "rowPadding": 2, "labelExpr": "datum.label === 'No shaper' ? 'No shaper' : ['Copper shaper', datum.label]",
                 "encode": {
                   "symbols": {"update": {"shape": {"signal": "indexof(datum.value,'d=5')===0 ? 'M-1,0H-0.22M0.22,0H1M0,0.14L0.15,-0.11L-0.15,-0.11Z' : 'M-1,0H-0.22M0.22,0H1M0,-0.15L0.12,0L0,0.15L-0.12,0Z'"}, "fill": {"signal": "indexof(datum.value,'d=5')===0 ? '#00ee00' : '#ff00ff'"}, "stroke": {"signal": "indexof(datum.value,'d=5')===0 ? '#a0a0a0' : '#f4a0f4'"}, "strokeWidth": {"value": 1}, "opacity": {"value": 1}}},
                   "labels": {"update": {"lineHeight": {"value": 28}}}
                 }}}}},
            {"mark": {"type": "point", "shape": "triangle-down", "filled": true, "size": 22, "opacity": 1},
             "encoding": {"color": {"field": "s", "type": "nominal"}}}
          ]
        }
      ]
    }
  ]
}
